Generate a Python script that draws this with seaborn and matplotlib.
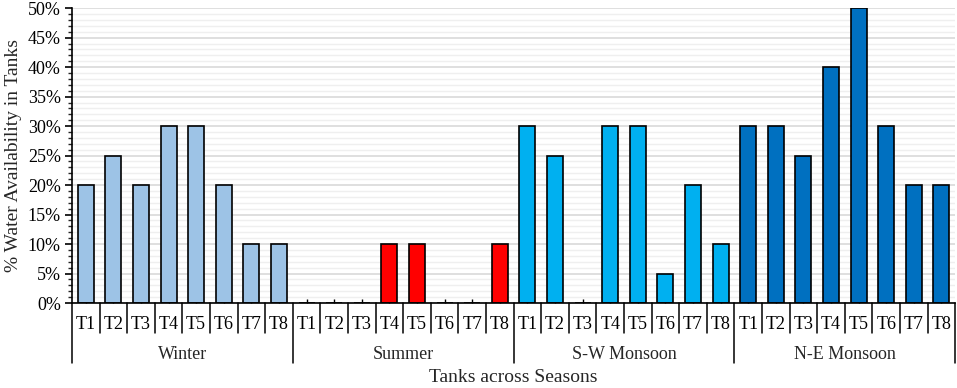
"""
Water availability in tanks across seasons - grouped category bar chart
"""
import numpy as np
import pandas as pd
import seaborn as sns
import matplotlib.pyplot as plt
from matplotlib.ticker import MultipleLocator, PercentFormatter
import matplotlib.transforms as mtransforms

# ----------------------------------------------------------------------------
# DATA
# ----------------------------------------------------------------------------
seasons = ['Winter', 'Summer', 'S-W Monsoon', 'N-E Monsoon']
tanks = ['T1', 'T2', 'T3', 'T4', 'T5', 'T6', 'T7', 'T8']
winter = [20, 25, 20, 30, 30, 20, 10, 10]
summer = [0, 0, 0, 10, 10, 0, 0, 10]
sw_monsoon = [30, 25, 0, 30, 30, 5, 20, 10]
ne_monsoon = [30, 30, 25, 40, 50, 30, 20, 20]
season_colors = ['#9DC3E6', '#FF0000', '#00B0F0', '#0070C0']

rows = []
for season, vals in zip(seasons, [winter, summer, sw_monsoon, ne_monsoon]):
    for tank, v in zip(tanks, vals):
        rows.append({'slot': f'{season} {tank}', 'tank': tank,
                     'season': season, 'value': v})
df = pd.DataFrame(rows)

# ----------------------------------------------------------------------------
# STYLE
# ----------------------------------------------------------------------------
sns.set_theme(style='white')
plt.rcParams['font.family'] = ['Liberation Serif', 'DejaVu Serif']

fig = plt.figure(figsize=(9.57, 3.88), dpi=100)
ax = fig.add_axes([0.0752, 0.219, 0.923, 0.760])

# saturation=1 keeps the exact fill colours
sns.barplot(data=df, x='slot', y='value', hue='season',
            palette=season_colors, dodge=False, width=0.58, saturation=1,
            edgecolor='black', linewidth=1.2, ax=ax, legend=False)

n = len(df)
ax.set_xlim(-0.5, n - 0.5)
ax.set_ylim(0, 50)

# y axis: majors every 5%, minors every 1%, both with gridlines
ax.yaxis.set_major_locator(MultipleLocator(5))
ax.yaxis.set_minor_locator(MultipleLocator(1))
ax.yaxis.set_major_formatter(PercentFormatter(decimals=0))
ax.grid(axis='y', which='major', color='#D9D9D9', linewidth=1.2, zorder=0)
ax.grid(axis='y', which='minor', color='#EFEFEF', linewidth=1.0, zorder=0)
ax.set_axisbelow(True)
ax.tick_params(axis='y', which='major', direction='out', length=5, width=1.2,
               left=True, labelsize=13, colors='black', pad=3)
ax.tick_params(axis='y', which='minor', direction='out', length=3, width=1,
               left=True)

# x axis: small inward ticks at bar centres, tank labels
ax.set_xticks(range(n))
ax.set_xticklabels(df['tank'], fontsize=13)
ax.tick_params(axis='x', which='major', direction='in', length=3, width=1,
               bottom=True, pad=9, colors='black')

for side in ['top', 'right']:
    ax.spines[side].set_visible(False)
for side in ['left', 'bottom']:
    ax.spines[side].set_color('black')
    ax.spines[side].set_linewidth(1.2)

ax.set_ylabel('% Water Availability in Tanks', fontsize=14, labelpad=4)
ax.set_xlabel('')

# two level category axis: separators and season labels
trans = mtransforms.blended_transform_factory(ax.transData, ax.transAxes)
for i in range(n + 1):
    x = i - 0.5
    y_end = -0.203 if i % len(tanks) == 0 else -0.10
    ax.plot([x, x], [0, y_end], color='black', linewidth=1.1,
            transform=trans, clip_on=False)

for k, season in enumerate(seasons):
    center = k * len(tanks) + (len(tanks) - 1) / 2
    ax.text(center, -0.176, season, transform=trans, ha='center',
            va='center', fontsize=13)

ax.text(0.5, -0.254, 'Tanks across Seasons', transform=ax.transAxes,
        ha='center', va='center', fontsize=14)

fig.savefig('out.png', dpi=100)
plt.close(fig)
